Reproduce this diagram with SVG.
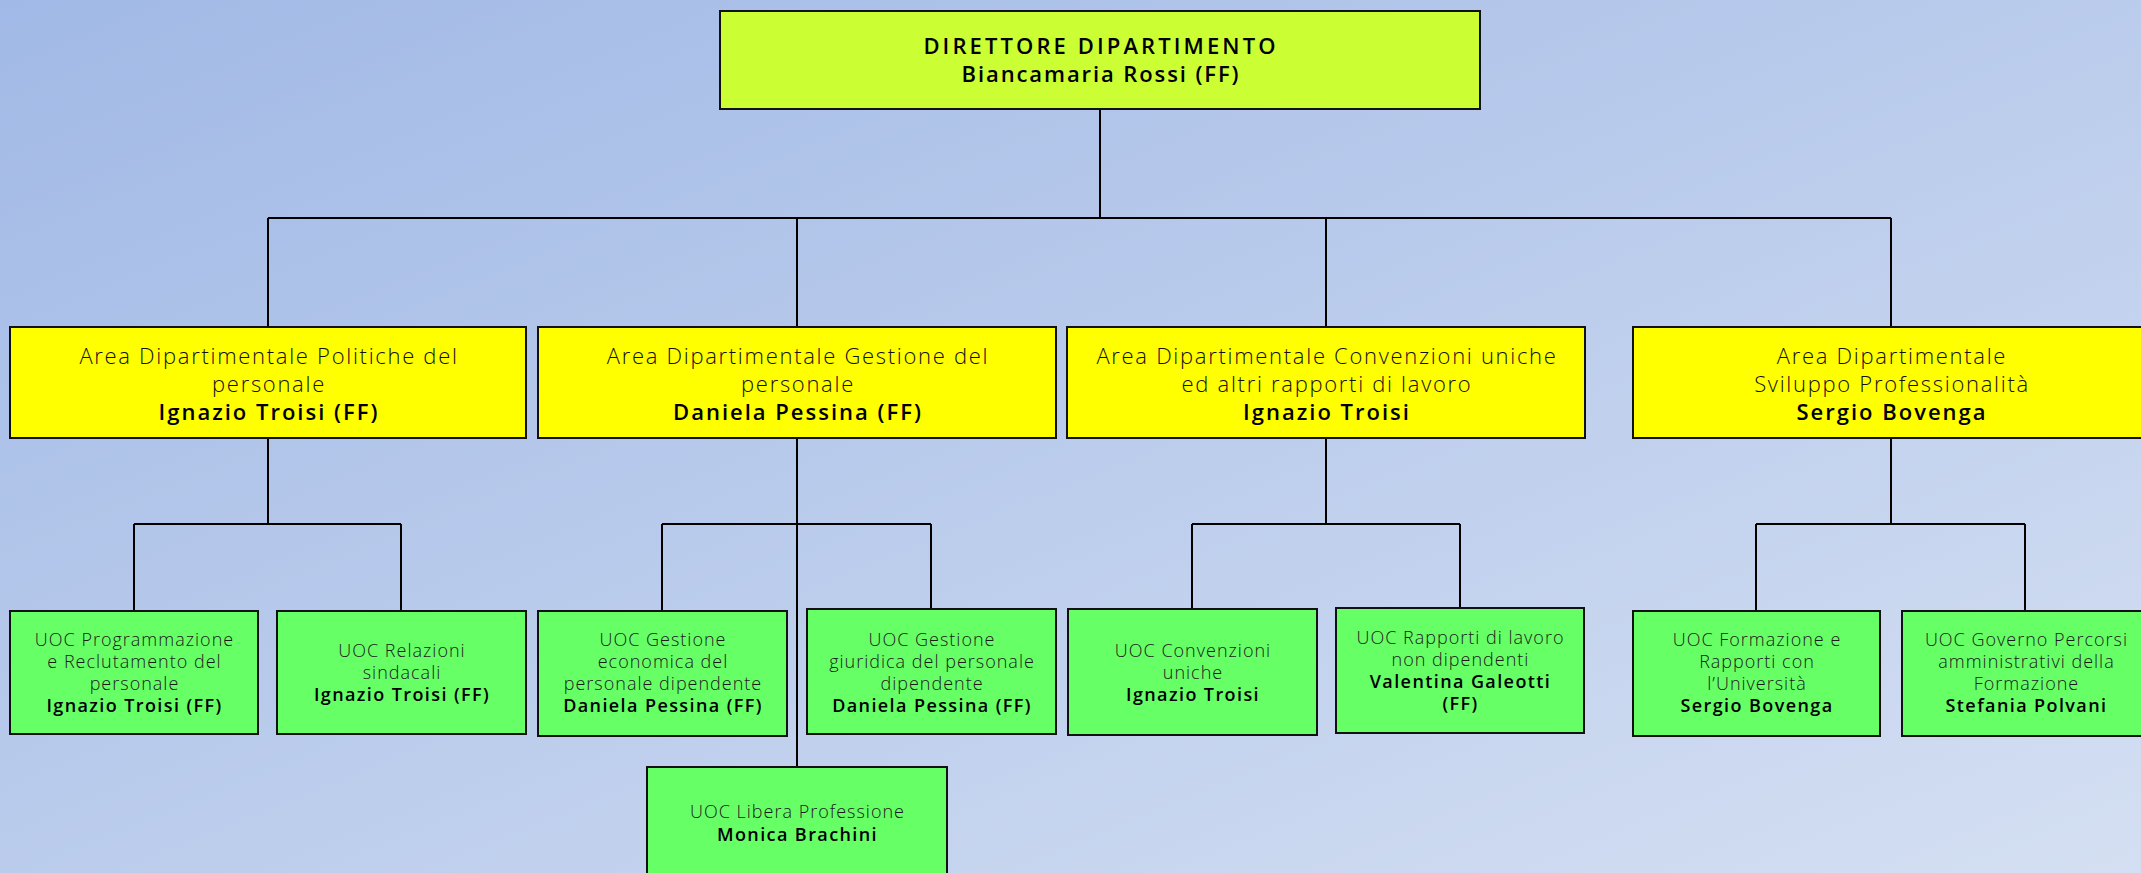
<svg xmlns="http://www.w3.org/2000/svg" width="2141" height="873" viewBox="0 0 2141 873">
<defs>
<linearGradient id="bg" x1="0" y1="0" x2="1" y2="1">
<stop offset="0" stop-color="#a1b9e6"/>
<stop offset="1" stop-color="#d4dff2"/>
</linearGradient>
<style>
.box{stroke:#111;stroke-width:2}
.top{fill:#ccff33}
.area{fill:#ffff00}
.uoc{fill:#66ff66}
text{font-family:"Open Sans","Noto Sans","Liberation Sans",sans-serif;text-anchor:middle;fill:#000}
.t2{font-size:22px;font-weight:300;fill:#111;letter-spacing:1.7px}
.n2{font-size:22px;font-weight:600;letter-spacing:2px}
.t3{font-size:18px;font-weight:300;fill:#1a1a1a;letter-spacing:1px}
.n3{font-size:18px;font-weight:600;letter-spacing:1.4px}
.hd{font-size:22px;font-weight:600;letter-spacing:3.1px}
.hd2{font-size:22px;font-weight:600;letter-spacing:1.9px}
#connectors path{fill:none;stroke:#000;stroke-width:2}
</style>
</defs>
<rect x="0" y="0" width="2141" height="873" fill="url(#bg)"/>
<g id="connectors">
<path d="M1100 109V218M268 218H1891M268 218V327M797 218V327M1326 218V327M1891 218V327"/>
<path d="M268 438V524M134 524H401M134 524V611M401 524V611"/>
<path d="M797 438V767M662 524H931M662 524V611M931 524V609"/>
<path d="M1326 438V524M1192 524H1460M1192 524V609M1460 524V608"/>
<path d="M1891 438V524M1756 524H2025M1756 524V611M2025 524V611"/>
</g>
<g id="direttore">
<rect class="box top" x="720" y="11" width="760" height="98"/>
<text class="hd" x="1101" y="54">DIRETTORE DIPARTIMENTO</text>
<text class="hd2" x="1101" y="82">Biancamaria Rossi (FF)</text>
</g>
<g id="area-politiche">
<rect class="box area" x="10" y="327" width="516" height="111"/>
<text class="t2" x="269" y="364">Area Dipartimentale Politiche del</text>
<text class="t2" x="269" y="392">personale</text>
<text class="n2" x="269" y="420">Ignazio Troisi (FF)</text>
</g>
<g id="area-gestione">
<rect class="box area" x="538" y="327" width="518" height="111"/>
<text class="t2" x="798" y="364">Area Dipartimentale Gestione del</text>
<text class="t2" x="798" y="392">personale</text>
<text class="n2" x="798" y="420">Daniela Pessina (FF)</text>
</g>
<g id="area-convenzioni">
<rect class="box area" x="1067" y="327" width="518" height="111"/>
<text class="t2" x="1327" y="364">Area Dipartimentale Convenzioni uniche</text>
<text class="t2" x="1327" y="392">ed altri rapporti di lavoro</text>
<text class="n2" x="1327" y="420">Ignazio Troisi</text>
</g>
<g id="area-sviluppo">
<rect class="box area" x="1633" y="327" width="516" height="111"/>
<text class="t2" x="1892" y="364">Area Dipartimentale</text>
<text class="t2" x="1892" y="392">Sviluppo Professionalità</text>
<text class="n2" x="1892" y="420">Sergio Bovenga</text>
</g>
<g id="uoc-programmazione">
<rect class="box uoc" x="10" y="611" width="248" height="123"/>
<text class="t3" x="134.5" y="646">UOC Programmazione</text>
<text class="t3" x="134.5" y="668">e Reclutamento del</text>
<text class="t3" x="134.5" y="690">personale</text>
<text class="n3" x="134.5" y="712">Ignazio Troisi (FF)</text>
</g>
<g id="uoc-relazioni">
<rect class="box uoc" x="277" y="611" width="249" height="123"/>
<text class="t3" x="402" y="657">UOC Relazioni</text>
<text class="t3" x="402" y="679">sindacali</text>
<text class="n3" x="402" y="701">Ignazio Troisi (FF)</text>
</g>
<g id="uoc-gestione-economica">
<rect class="box uoc" x="538" y="611" width="249" height="125"/>
<text class="t3" x="663" y="646">UOC Gestione</text>
<text class="t3" x="663" y="668">economica del</text>
<text class="t3" x="663" y="690">personale dipendente</text>
<text class="n3" x="663" y="712">Daniela Pessina (FF)</text>
</g>
<g id="uoc-gestione-giuridica">
<rect class="box uoc" x="807" y="609" width="249" height="125"/>
<text class="t3" x="932" y="646">UOC Gestione</text>
<text class="t3" x="932" y="668">giuridica del personale</text>
<text class="t3" x="932" y="690">dipendente</text>
<text class="n3" x="932" y="712">Daniela Pessina (FF)</text>
</g>
<g id="uoc-libera-professione">
<rect class="box uoc" x="647" y="767" width="300" height="120"/>
<text class="t3" x="797.5" y="818">UOC Libera Professione</text>
<text class="n3" x="797.5" y="841">Monica Brachini</text>
</g>
<g id="uoc-convenzioni">
<rect class="box uoc" x="1068" y="609" width="249" height="126"/>
<text class="t3" x="1193" y="657">UOC Convenzioni</text>
<text class="t3" x="1193" y="679">uniche</text>
<text class="n3" x="1193" y="701">Ignazio Troisi</text>
</g>
<g id="uoc-rapporti">
<rect class="box uoc" x="1336" y="608" width="248" height="125"/>
<text class="t3" x="1460.5" y="644">UOC Rapporti di lavoro</text>
<text class="t3" x="1460.5" y="666">non dipendenti</text>
<text class="n3" x="1460.5" y="688">Valentina Galeotti</text>
<text class="n3" x="1460.5" y="710">(FF)</text>
</g>
<g id="uoc-formazione">
<rect class="box uoc" x="1633" y="611" width="247" height="125"/>
<text class="t3" x="1757" y="646">UOC Formazione e</text>
<text class="t3" x="1757" y="668">Rapporti con</text>
<text class="t3" x="1757" y="690">l’Università</text>
<text class="n3" x="1757" y="712">Sergio Bovenga</text>
</g>
<g id="uoc-governo">
<rect class="box uoc" x="1902" y="611" width="248" height="125"/>
<text class="t3" x="2026.5" y="646">UOC Governo Percorsi</text>
<text class="t3" x="2026.5" y="668">amministrativi della</text>
<text class="t3" x="2026.5" y="690">Formazione</text>
<text class="n3" x="2026.5" y="712">Stefania Polvani</text>
</g>
</svg>
